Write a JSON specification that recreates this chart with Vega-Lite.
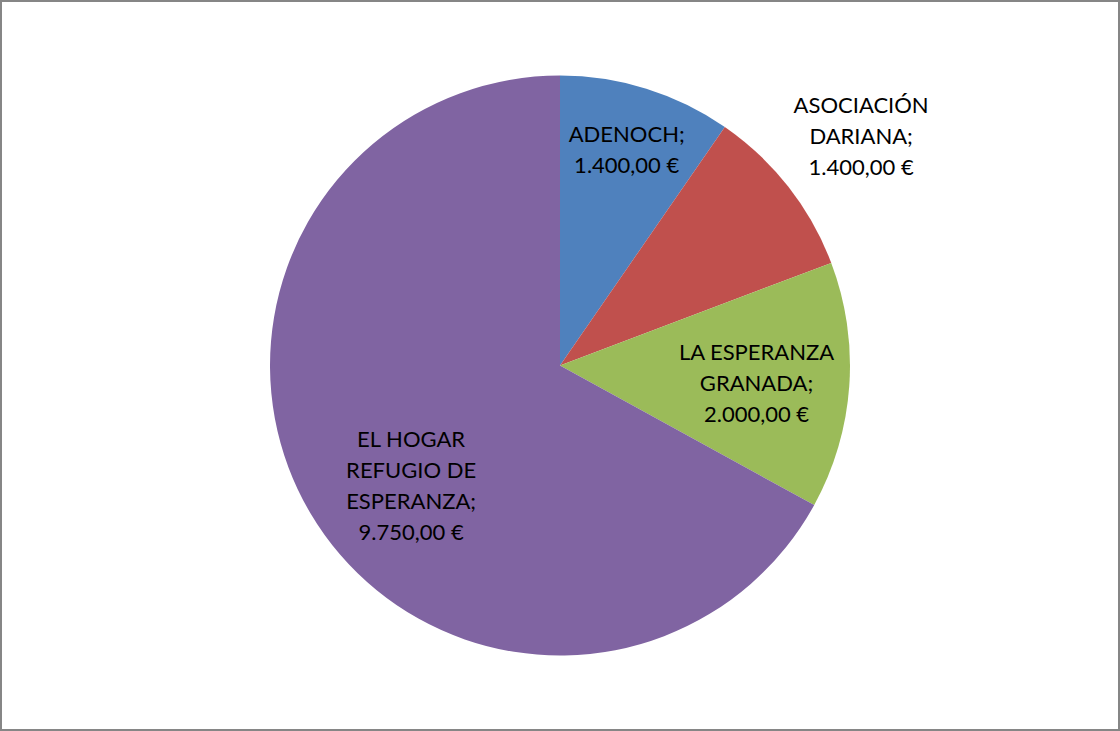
{
  "$schema": "https://vega.github.io/schema/vega-lite/v6.json",
  "width": 1120,
  "height": 731,
  "autosize": {"type": "none"},
  "padding": 0,
  "background": "white",
  "config": {"view": {"stroke": null}},
  "data": {
    "values": [
      {"orden": 1, "entidad": "ADENOCH", "importe": 1400, "etiqueta": "ADENOCH;\n1.400,00 €"},
      {"orden": 2, "entidad": "ASOCIACIÓN DARIANA", "importe": 1400, "etiqueta": "ASOCIACIÓN\nDARIANA;\n1.400,00 €"},
      {"orden": 3, "entidad": "LA ESPERANZA GRANADA", "importe": 2000, "etiqueta": "LA ESPERANZA\nGRANADA;\n2.000,00 €"},
      {"orden": 4, "entidad": "EL HOGAR REFUGIO DE ESPERANZA", "importe": 9750, "etiqueta": "EL HOGAR\nREFUGIO DE\nESPERANZA;\n9.750,00 €"}
    ]
  },
  "layer": [
    {
      "data": {"values": [{"marco": 1}]},
      "mark": {"type": "rect", "fill": "white", "stroke": "#868686", "strokeWidth": 4},
      "encoding": {
        "x": {"datum": 0, "type": "quantitative", "scale": {"domain": [0, 1], "nice": false, "zero": false}, "axis": null},
        "x2": {"datum": 1},
        "y": {"datum": 0, "type": "quantitative", "scale": {"domain": [0, 1], "nice": false, "zero": false}, "axis": null},
        "y2": {"datum": 1}
      }
    },
    {
      "mark": {"type": "arc", "outerRadius": 290},
      "encoding": {
        "theta": {"field": "importe", "type": "quantitative", "stack": true},
        "order": {"field": "orden", "type": "quantitative"},
        "color": {
          "field": "entidad",
          "type": "nominal",
          "sort": ["ADENOCH", "ASOCIACIÓN DARIANA", "LA ESPERANZA GRANADA", "EL HOGAR REFUGIO DE ESPERANZA"],
          "scale": {
            "domain": ["ADENOCH", "ASOCIACIÓN DARIANA", "LA ESPERANZA GRANADA", "EL HOGAR REFUGIO DE ESPERANZA"],
            "range": ["#4F81BD", "#C0504D", "#9BBB59", "#8064A2"]
          },
          "legend": null
        }
      }
    },
    {
      "mark": {"type": "text", "radius": 224, "dy": -17, "lineBreak": "\n", "font": "Lato", "fontSize": 22, "lineHeight": 31, "baseline": "middle", "align": "center", "color": "black"},
      "encoding": {
        "theta": {"field": "importe", "type": "quantitative", "stack": true},
        "order": {"field": "orden", "type": "quantitative"},
        "text": {"condition": {"test": "datum.orden === 1", "field": "etiqueta"}, "value": ""}
      }
    },
    {
      "mark": {"type": "text", "radius": 376, "dx": 5, "dy": -28, "lineBreak": "\n", "font": "Lato", "fontSize": 22, "lineHeight": 31, "baseline": "middle", "align": "center", "color": "black"},
      "encoding": {
        "theta": {"field": "importe", "type": "quantitative", "stack": true},
        "order": {"field": "orden", "type": "quantitative"},
        "text": {"condition": {"test": "datum.orden === 2", "field": "etiqueta"}, "value": ""}
      }
    },
    {
      "mark": {"type": "text", "radius": 197, "dy": -26, "lineBreak": "\n", "font": "Lato", "fontSize": 22, "lineHeight": 31, "baseline": "middle", "align": "center", "color": "black"},
      "encoding": {
        "theta": {"field": "importe", "type": "quantitative", "stack": true},
        "order": {"field": "orden", "type": "quantitative"},
        "text": {"condition": {"test": "datum.orden === 3", "field": "etiqueta"}, "value": ""}
      }
    },
    {
      "mark": {"type": "text", "radius": 173, "dy": -14, "lineBreak": "\n", "font": "Lato", "fontSize": 22, "lineHeight": 31, "baseline": "middle", "align": "center", "color": "black"},
      "encoding": {
        "theta": {"field": "importe", "type": "quantitative", "stack": true},
        "order": {"field": "orden", "type": "quantitative"},
        "text": {"condition": {"test": "datum.orden === 4", "field": "etiqueta"}, "value": ""}
      }
    }
  ]
}
